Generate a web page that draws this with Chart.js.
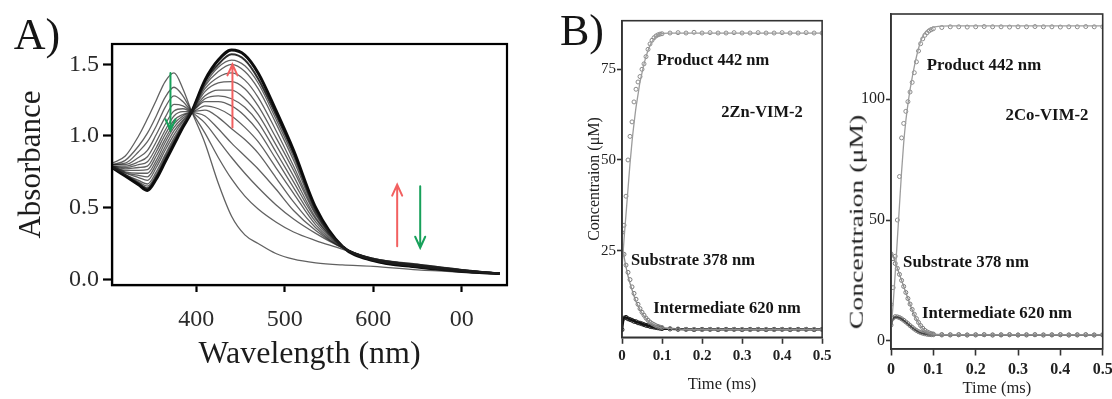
<!DOCTYPE html>
<html><head><meta charset="utf-8">
<script src="https://cdn.jsdelivr.net/npm/chart.js@4.4.1/dist/chart.umd.min.js"></script>
<style>
html,body{margin:0;padding:0;background:#fff;width:1112px;height:399px;overflow:hidden;position:relative}
canvas{position:absolute;top:0}
.lbl{position:absolute;white-space:nowrap;font-family:'Liberation Serif',serif;color:#151515;transform:translate(-50%,-50%);line-height:1}
.ann{font-weight:bold}
</style></head><body>
<canvas id="cA" width="545" height="399" style="left:0"></canvas>
<canvas id="cB1" width="290" height="399" style="left:545px"></canvas>
<canvas id="cB2" width="300" height="399" style="left:835px"></canvas>

<div class="lbl" style="left:37px;top:35px;font-size:44px">A)</div>
<div class="lbl" style="left:582px;top:31px;font-size:44px">B)</div>

<div class="lbl ann" style="left:713px;top:60px;font-size:16.5px">Product 442 nm</div>
<div class="lbl ann" style="left:762px;top:112px;font-size:16.5px">2Zn-VIM-2</div>
<div class="lbl ann" style="left:693px;top:260px;font-size:16.5px">Substrate 378 nm</div>
<div class="lbl ann" style="left:727px;top:308px;font-size:16.5px">Intermediate 620 nm</div>

<div class="lbl ann" style="left:984px;top:65px;font-size:16.8px">Product 442 nm</div>
<div class="lbl ann" style="left:1047px;top:115px;font-size:16.8px">2Co-VIM-2</div>
<div class="lbl ann" style="left:966px;top:262px;font-size:16.8px">Substrate 378 nm</div>
<div class="lbl ann" style="left:997px;top:313px;font-size:16.8px">Intermediate 620 nm</div>

<div class="lbl" style="left:857px;top:222px;font-size:18.5px;color:#222;transform:translate(-50%,-50%) rotate(-90deg) scaleX(1.5)">Concentraion (μM)</div>

<script>
// ---------------- Panel A data ----------------
const wavelengths = [305,320,335,345,355,365,375,385,395,410,425,440,455,470,490,510,535,565,600,650,700,743];
const s00 = [0.81,0.86,1.00,1.12,1.25,1.38,1.44,1.33,1.17,0.95,0.67,0.44,0.31,0.25,0.18,0.14,0.115,0.10,0.09,0.065,0.05,0.04];
const s01 = [0.80,0.83,0.93,1.02,1.14,1.27,1.34,1.28,1.17,1.02,0.85,0.70,0.58,0.49,0.40,0.33,0.27,0.21,0.13,0.10,0.065,0.04];
const s02 = [0.80,0.81,0.89,0.96,1.07,1.20,1.28,1.24,1.17,1.09,0.97,0.85,0.74,0.64,0.52,0.42,0.32,0.22,0.14,0.105,0.068,0.042];
const s03 = [0.80,0.80,0.85,0.90,1.01,1.13,1.22,1.21,1.17,1.14,1.05,0.95,0.86,0.77,0.63,0.48,0.34,0.22,0.145,0.105,0.068,0.042];
const s04 = [0.79,0.79,0.82,0.855,0.96,1.08,1.175,1.19,1.17,1.18,1.13,1.05,0.975,0.88,0.71,0.54,0.36,0.22,0.145,0.10,0.066,0.042];
const s05 = [0.79,0.78,0.80,0.82,0.92,1.04,1.14,1.17,1.17,1.21,1.19,1.14,1.06,0.96,0.78,0.60,0.38,0.225,0.145,0.10,0.065,0.041];
const s06 = [0.79,0.77,0.78,0.79,0.89,1.01,1.11,1.15,1.17,1.24,1.24,1.21,1.14,1.035,0.84,0.64,0.40,0.225,0.14,0.095,0.063,0.041];
const s07 = [0.79,0.76,0.76,0.765,0.86,0.98,1.085,1.14,1.17,1.26,1.28,1.26,1.20,1.095,0.89,0.68,0.42,0.23,0.14,0.095,0.062,0.041];
const s08 = [0.79,0.75,0.74,0.74,0.83,0.955,1.06,1.125,1.17,1.28,1.32,1.32,1.26,1.15,0.94,0.72,0.43,0.23,0.14,0.093,0.06,0.041];
const s09 = [0.785,0.745,0.725,0.715,0.805,0.925,1.035,1.11,1.17,1.31,1.37,1.38,1.33,1.21,0.99,0.76,0.45,0.23,0.14,0.092,0.06,0.04];
const s10 = [0.785,0.74,0.71,0.69,0.78,0.90,1.01,1.10,1.17,1.33,1.41,1.44,1.39,1.27,1.04,0.79,0.46,0.23,0.138,0.09,0.058,0.04];
const s11 = [0.78,0.73,0.69,0.665,0.75,0.87,0.985,1.085,1.17,1.35,1.45,1.50,1.45,1.33,1.09,0.83,0.47,0.23,0.135,0.088,0.057,0.04];
const s12 = [0.78,0.73,0.68,0.65,0.73,0.855,0.97,1.075,1.17,1.36,1.48,1.53,1.49,1.37,1.12,0.855,0.48,0.23,0.133,0.087,0.056,0.04];
const s13 = [0.78,0.725,0.67,0.635,0.715,0.835,0.955,1.07,1.17,1.38,1.50,1.57,1.53,1.40,1.15,0.88,0.49,0.23,0.13,0.086,0.055,0.04];
const s14 = [0.78,0.72,0.66,0.62,0.70,0.82,0.94,1.06,1.17,1.39,1.53,1.60,1.565,1.44,1.18,0.90,0.50,0.23,0.13,0.085,0.055,0.04];
const spectraA = [s00,s01,s02,s03,s04,s05,s06,s07,s08,s09,s10,s11,s12,s13,s14];
const xTicksA = [400,500,600,700];
const xTickLabelsA = ['400','500','600','00'];
const yTicksA = [0,0.5,1.0,1.5];
const yTickLabelsA = ['0.0','0.5','1.0','1.5'];
// arrows: wavelength, start absorbance, end absorbance
const arrowsA = [
  {nm:371, from:1.44, to:1.04, color:'#17a05a'},
  {nm:441, from:1.06, to:1.50, color:'#f26060'},
  {nm:627, from:0.23, to:0.66, color:'#f26060'},
  {nm:653, from:0.65, to:0.22, color:'#17a05a'}
];

// ---------------- Panel B data ----------------
const timeMs = [0,0.005,0.01,0.015,0.02,0.025,0.03,0.035,0.04,0.045,0.05,0.055,0.06,0.065,0.07,0.075,0.08,0.085,0.09,0.095,0.1,0.12,0.14,0.16,0.18,0.2,0.22,0.24,0.26,0.28,0.3,0.32,0.34,0.36,0.38,0.4,0.42,0.44,0.46,0.48,0.5];
const znProductObs = [24,32,40,50,56.5,60.5,66,69.5,71.5,73,75,76.5,78.5,80.5,82,83,83.7,84.2,84.5,84.7,84.8,85,85.1,85,85.2,85,85.1,85,85,85.1,85,85,85.1,85,85,85.1,85,85,85.1,85,85];
const znProductFit = [20,28,35,42,49,55,60,64.5,68,71.5,74,76.5,78.5,80.2,81.6,82.6,83.4,84,84.4,84.7,84.9,85,85,85,85,85,85,85,85,85,85,85,85,85,85,85,85,85,85,85,85];
const znSubstrateObs = [30,24,21,19,17,15,13.2,11.6,10.2,9,8,7.2,6.4,5.8,5.3,4.9,4.6,4.3,4.1,3.9,3.8,3.5,3.4,3.3,3.3,3.2,3.3,3.3,3.2,3.3,3.3,3.2,3.3,3.3,3.2,3.3,3.3,3.2,3.3,3.3,3.2];
const znSubstrateFit = [27,23.5,20.5,18,16,14.2,12.5,11,9.8,8.7,7.8,7,6.3,5.7,5.2,4.8,4.5,4.2,4,3.8,3.7,3.5,3.4,3.3,3.3,3.3,3.3,3.3,3.3,3.3,3.3,3.3,3.3,3.3,3.3,3.3,3.3,3.3,3.3,3.3,3.3];
const znIntermediateObs = [3.2,6.4,6.6,6.2,6.0,5.8,5.5,5.4,5.1,5.0,4.8,4.6,4.4,4.3,4.1,4.0,3.9,3.8,3.7,3.6,3.5,3.4,3.3,3.3,3.2,3.3,3.3,3.2,3.3,3.3,3.2,3.3,3.3,3.2,3.3,3.3,3.2,3.3,3.3,3.2,3.3];
const znIntermediateFit = [3,6.5,6.6,6.3,6.0,5.8,5.6,5.4,5.2,5.0,4.8,4.6,4.5,4.3,4.2,4.0,3.9,3.8,3.7,3.6,3.5,3.4,3.35,3.3,3.3,3.3,3.3,3.3,3.3,3.3,3.3,3.3,3.3,3.3,3.3,3.3,3.3,3.3,3.3,3.3,3.3];

const coProductObs = [15,22,35,50,68,84,90,95,99,103,107,111,115.5,120,123,125,126.5,127.5,128.3,128.8,129.2,129.7,130,130,129.9,130,130.1,130,130,129.9,130,130,130.1,130,130,129.9,130,130,130.1,130,130];
const coProductFit = [5,15,28,42,56,70,82,91,98,104,109,113.5,117.5,121,124,126,127.5,128.5,129.2,129.6,129.9,130.3,130.4,130.4,130.4,130.4,130.4,130.4,130.4,130.4,130.4,130.4,130.4,130.4,130.4,130.4,130.4,130.4,130.4,130.4,130.4];
const coSubstrateObs = [36,34,32,30,27.5,25,22.5,20,17.5,15.2,13,11,9.2,7.6,6.3,5.2,4.3,3.7,3.3,3,2.8,2.6,2.5,2.5,2.4,2.5,2.5,2.4,2.5,2.5,2.4,2.5,2.5,2.4,2.5,2.5,2.4,2.5,2.5,2.4,2.5];
const coSubstrateFit = [37,35,32.5,30,27.5,25,22.5,20,17.5,15,12.8,10.8,9,7.5,6.2,5.1,4.2,3.6,3.2,2.9,2.7,2.5,2.5,2.5,2.5,2.5,2.5,2.5,2.5,2.5,2.5,2.5,2.5,2.5,2.5,2.5,2.5,2.5,2.5,2.5,2.5];
const coIntermediateObs = [6.5,9.4,10,9.9,9.6,9.1,8.5,7.8,7.1,6.3,5.6,4.9,4.3,3.8,3.4,3.1,2.9,2.7,2.6,2.5,2.5,2.4,2.4,2.5,2.4,2.4,2.5,2.4,2.4,2.5,2.4,2.4,2.5,2.4,2.4,2.5,2.4,2.4,2.5,2.4,2.4];
const coIntermediateFit = [6,9.2,9.8,9.8,9.5,9.0,8.4,7.7,7.0,6.2,5.5,4.8,4.2,3.7,3.3,3.0,2.8,2.7,2.6,2.55,2.5,2.4,2.4,2.4,2.4,2.4,2.4,2.4,2.4,2.4,2.4,2.4,2.4,2.4,2.4,2.4,2.4,2.4,2.4,2.4,2.4];

const xTicksB = [0,0.1,0.2,0.3,0.4,0.5];
const xTickLabelsB = ['0','0.1','0.2','0.3','0.4','0.5'];
const yTicksB1 = [25,50,75];
const yTicksB2 = [0,50,100];

// ---------------- helpers ----------------
const SERIF = "'Liberation Serif', 'Times New Roman', serif";
const pts = (xs, ys) => xs.map((x,i)=>({x:x, y:ys[i]}));

const framePlugin = {
  id:'frame',
  afterDatasetsDraw(chart, args, opts){
    const {ctx, chartArea:a} = chart;
    ctx.save();
    ctx.strokeStyle = opts.color || '#000';
    ctx.lineWidth = opts.width || 1;
    ctx.strokeRect(a.left, a.top, a.right-a.left, a.bottom-a.top);
    ctx.restore();
  }
};
const arrowPlugin = {
  id:'arrows',
  afterDatasetsDraw(chart, args, opts){
    if(!opts.items) return;
    const {ctx, scales:{x,y}} = chart;
    ctx.save();
    ctx.lineWidth = 2;
    ctx.lineCap = 'round';
    opts.items.forEach(it=>{
      const px = x.getPixelForValue(it.nm);
      const y0 = y.getPixelForValue(it.from);
      const y1 = y.getPixelForValue(it.to);
      const dir = y1 > y0 ? 1 : -1;
      ctx.strokeStyle = it.color;
      ctx.beginPath();
      ctx.moveTo(px, y0); ctx.lineTo(px, y1);
      ctx.moveTo(px-5, y1 - dir*11); ctx.lineTo(px, y1); ctx.lineTo(px+5, y1 - dir*11);
      ctx.stroke();
    });
    ctx.restore();
  }
};

function fixedTicks(values){ return s => { s.ticks = values.map(v=>({value:v})); }; }

// ---------------- Chart A ----------------
const dsA = spectraA.map((s,i)=>({
  data: pts(wavelengths, s),
  showLine: true,
  borderColor: i===spectraA.length-1 ? 'rgba(0,0,0,0.95)' : (i===spectraA.length-2 ? 'rgba(10,10,10,0.85)' : 'rgba(30,30,30,0.7)'),
  borderWidth: i===spectraA.length-1 ? 3 : (i===spectraA.length-2 ? 2 : 1.3),
  pointRadius: 0,
  cubicInterpolationMode: 'monotone',
  fill: false
}));

new Chart(document.getElementById('cA'), {
  type:'scatter',
  data:{datasets: dsA},
  options:{
    responsive:false, animation:false, devicePixelRatio:1,
    layout:{padding:{top:44, right:545-507, left:0, bottom:0}},
    plugins:{legend:{display:false}, tooltip:{enabled:false}, frame:{color:'#000', width:2.2}, arrows:{items:arrowsA}},
    scales:{
      x:{type:'linear', min:305, max:751,
        afterFit: s=>{ s.height = 399-285; },
        afterBuildTicks: fixedTicks(xTicksA),
        ticks:{callback:(v,i)=>xTickLabelsA[i], font:{family:SERIF, size:24}, color:'#2a2a2a', padding:13, maxRotation:0, autoSkip:false},
        grid:{drawOnChartArea:false, drawTicks:true, tickLength:7, tickWidth:2.2, tickColor:'#000'},
        border:{display:true, color:'#000', width:2.2},
        title:{display:true, text:'Wavelength (nm)', font:{family:SERIF, size:32}, color:'#1c1c1c', padding:{top:0, bottom:25}}
      },
      y:{type:'linear', min:-0.04, max:1.642,
        afterFit: s=>{ s.width = 112; },
        afterBuildTicks: fixedTicks(yTicksA),
        ticks:{callback:(v,i)=>yTickLabelsA[i], font:{family:SERIF, size:24}, color:'#2a2a2a', padding:4},
        grid:{drawOnChartArea:false, drawTicks:true, tickLength:9, tickWidth:2.2, tickColor:'#000'},
        border:{display:true, color:'#000', width:2.2},
        title:{display:true, text:'Absorbance', font:{family:SERIF, size:31}, color:'#1c1c1c', padding:{top:13, bottom:0}}
      }
    }
  },
  plugins:[framePlugin, arrowPlugin]
});

// ---------------- Chart B builder ----------------
function kineticDatasets(prodObs, prodFit, subObs, subFit, intObs, intFit, intColor, intWidth, intPointColor){
  const lineBase = {showLine:true, pointRadius:0, cubicInterpolationMode:'monotone', fill:false};
  const dotBase = {showLine:false, pointRadius:2, pointStyle:'circle', backgroundColor:'rgba(255,255,255,0)', borderWidth:1};
  return [
    Object.assign({data:pts(timeMs, prodFit), borderColor:'#9c9c9c', borderWidth:1.3}, lineBase),
    Object.assign({data:pts(timeMs, prodObs), borderColor:'#8a8a8a'}, dotBase),
    Object.assign({data:pts(timeMs, subFit), borderColor:'#8f8f8f', borderWidth:1.3}, lineBase),
    Object.assign({data:pts(timeMs, subObs), borderColor:'#7a7a7a'}, dotBase),
    Object.assign({data:pts(timeMs, intFit), borderColor:intColor, borderWidth:intWidth}, lineBase),
    Object.assign({data:pts(timeMs, intObs), borderColor:intPointColor, pointRadius:1.6}, dotBase)
  ];
}

function kineticChart(id, cw, area, yMin, yMax, yTicks, datasets, yTitle, xTickPad, xTitlePad, fontSize){
  return new Chart(document.getElementById(id), {
    type:'scatter',
    data:{datasets},
    options:{
      responsive:false, animation:false, devicePixelRatio:1,
      layout:{padding:{top:area.top, right:cw-area.right, left:0, bottom:0}},
      plugins:{legend:{display:false}, tooltip:{enabled:false}, frame:{color:'#333', width:1.6}},
      scales:{
        x:{type:'linear', min:0, max:0.5,
          afterFit: s=>{ s.height = 399-area.bottom; },
          afterBuildTicks: fixedTicks(xTicksB),
          ticks:{callback:(v,i)=>xTickLabelsB[i], font:{family:SERIF, size:fontSize, weight:'bold'}, color:'#222', padding:xTickPad, maxRotation:0, autoSkip:false},
          grid:{drawOnChartArea:false, drawTicks:true, tickLength:6.5, tickWidth:1.6, tickColor:'#333'},
          border:{display:true, color:'#333', width:1.6},
          title:{display:true, text:'Time (ms)', font:{family:SERIF, size:16.5}, color:'#222', padding:{top:0, bottom:xTitlePad}}
        },
        y:{type:'linear', min:yMin, max:yMax,
          afterFit: s=>{ s.width = area.left; },
          afterBuildTicks: fixedTicks(yTicks),
          ticks:{font:{family:SERIF, size:fontSize}, color:'#222', padding:1},
          grid:{drawOnChartArea:false, drawTicks:true, tickLength:5, tickWidth:1.6, tickColor:'#333'},
          border:{display:true, color:'#333', width:1.6},
          title: yTitle
        }
      }
    },
    plugins:[framePlugin]
  });
}

kineticChart('cB1', 290, {left:77, top:20.7, right:277.5, bottom:337.3}, 1.1, 88.4, yTicksB1,
  kineticDatasets(znProductObs, znProductFit, znSubstrateObs, znSubstrateFit, znIntermediateObs, znIntermediateFit, '#111', 2.2, '#222'),
  {display:true, text:'Concentraion (μM)', font:{family:SERIF, size:16}, color:'#222', padding:{top:40, bottom:0}},
  3.5, 4.5, 15);

kineticChart('cB2', 300, {left:56, top:14, right:267.7, bottom:349}, -3.4, 135.3, yTicksB2,
  kineticDatasets(coProductObs, coProductFit, coSubstrateObs, coSubstrateFit, coIntermediateObs, coIntermediateFit, '#444', 1.6, '#777'),
  {display:false},
  5, 0, 16);
</script>
</body></html>
